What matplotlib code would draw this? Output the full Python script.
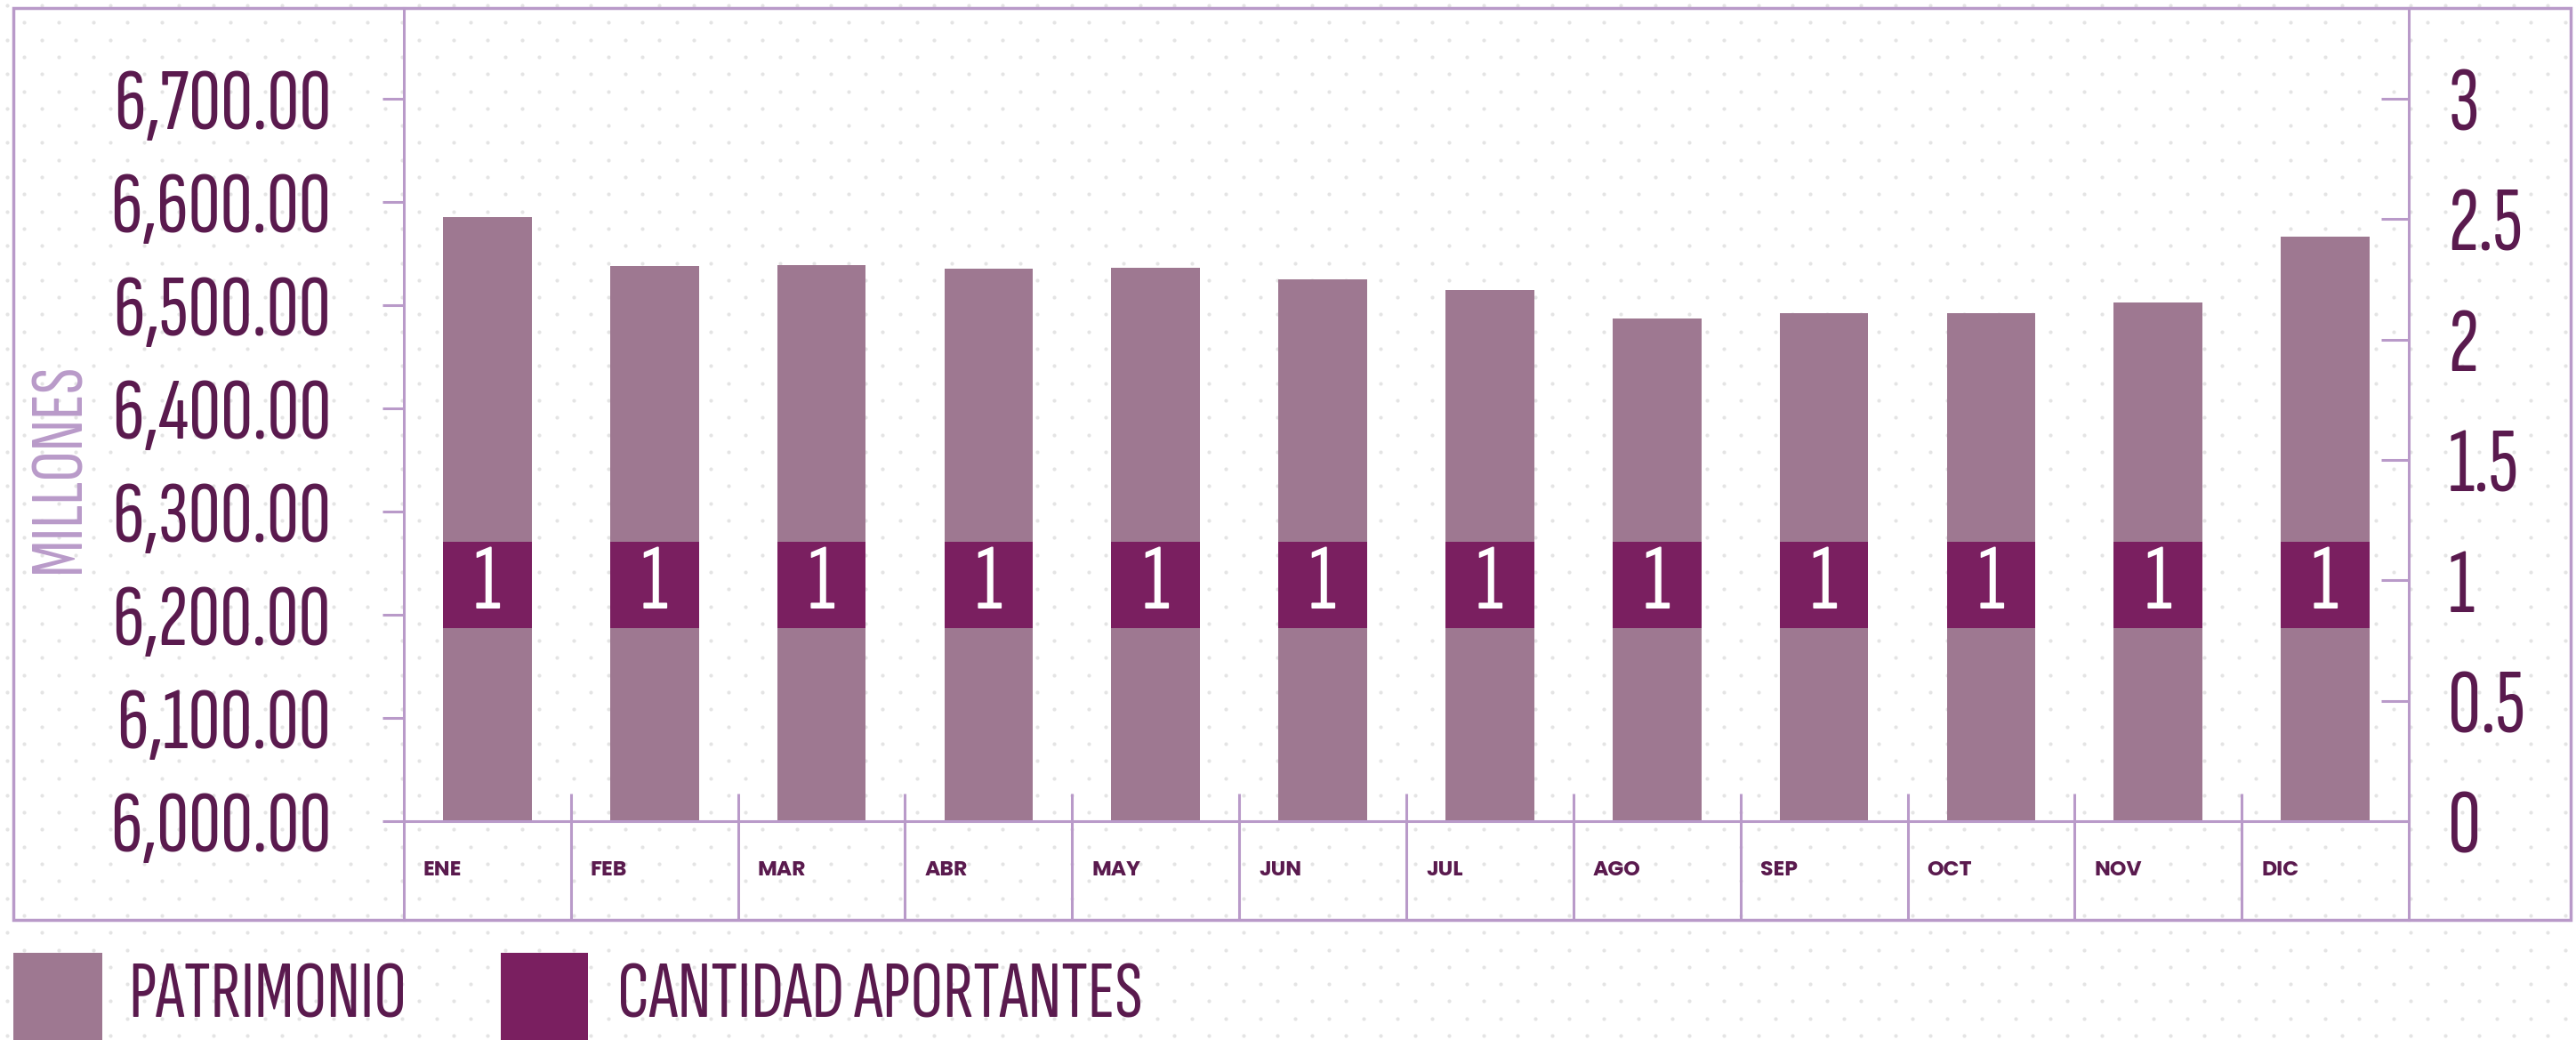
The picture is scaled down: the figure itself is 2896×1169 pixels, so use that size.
import matplotlib
matplotlib.use("Agg")
import matplotlib.pyplot as plt
from matplotlib import font_manager
from matplotlib.lines import Line2D
from matplotlib.patches import Rectangle
import numpy as np

# Datos (millones / cantidad de aportantes)
months = ["ENE", "FEB", "MAR", "ABR", "MAY", "JUN", "JUL", "AGO", "SEP", "OCT", "NOV", "DIC"]
patrimonio = [6585, 6538, 6539, 6535, 6536, 6525, 6515, 6487, 6492, 6492, 6503, 6566]
aportantes = [1, 1, 1, 1, 1, 1, 1, 1, 1, 1, 1, 1]
left_ticks = [6000, 6100, 6200, 6300, 6400, 6500, 6600, 6700]
right_ticks = [0, 0.5, 1, 1.5, 2, 2.5, 3]
right_labels = ["0", "0.5", "1", "1.5", "2", "2.5", "3"]

LIGHT = "#9e7891"
DARK = "#7a1f60"
TEXT = "#5a1a4e"
LINE = "#b99ac9"
DOT = "#e4e4e4"


def weights(name):
    out = set()
    for f in font_manager.fontManager.ttflist:
        if f.name == name:
            try:
                out.add(int(f.weight))
            except ValueError:
                pass
    return out


available = {f.name for f in font_manager.fontManager.ttflist}
cond = next((n for n in ["Sofia Sans Extra Condensed", "Saira ExtraCondensed", "Barlow Condensed"]
             if n in available), "DejaVu Sans")
bold = next((n for n in ["Poppins", "Lato", "DejaVu Sans"]
             if any(w >= 700 for w in weights(n))), "DejaVu Sans")

W, H = 2896, 1169
fig = plt.figure(figsize=(W / 100, H / 100), dpi=100)


def fx(px):
    return px / W


def fy(py):
    return 1 - py / H


# dotted background
bg = fig.add_axes([0, 0, 1, 1], zorder=-1)
bg.set_xlim(0, W)
bg.set_ylim(H, 0)
bg.axis("off")
step = 19.3
gx, gy = np.meshgrid(np.arange(0, W + step, step), np.arange(0, H + step, step))
ix, iy = np.meshgrid(np.arange(gx.shape[1]), np.arange(gx.shape[0]))
mask = (ix + iy) % 2 == 0
bg.scatter(gx[mask] + 8, gy[mask] + 6, s=9, color=DOT, linewidths=0)

# main axes
ax_l, ax_r, ax_t, ax_b = 454, 2708, 9, 923
ax = fig.add_axes([fx(ax_l), fy(ax_b), fx(ax_r - ax_l), (ax_b - ax_t) / H])
ax.set_facecolor("none")
x = np.arange(len(months))
ax.bar(x, patrimonio, width=0.53, color=LIGHT, zorder=2)
ax.set_xlim(-0.5, len(months) - 0.5)
ax.set_ylim(6000, 6000 + (ax_b - ax_t) / 116.0 * 100)
ax.set_yticks(left_ticks)
ax.set_yticklabels([f"{v:,.2f}" for v in left_ticks], fontsize=72, color=TEXT, family=cond)
ax.tick_params(axis="y", direction="out", length=17, width=2.2, color=LINE, pad=42)
ax.set_xticks([])
for s in ["top", "left", "right"]:
    ax.spines[s].set_visible(False)
ax.spines["bottom"].set_color(LINE)
ax.spines["bottom"].set_linewidth(2.2)

ax2 = ax.twinx()
ax2.set_ylim(0, (ax_b - ax_t) / 270.7)
ax2.bar(x, 0.36, bottom=np.array(aportantes) - 0.2, width=0.53, color=DARK, zorder=3)
for i, v in enumerate(aportantes):
    ax2.text(i, v - 0.02, str(v), ha="center", va="center", color="white",
             fontsize=76, family=cond, zorder=4)
ax2.set_yticks(right_ticks)
ax2.set_yticklabels(right_labels, fontsize=74, color=TEXT, family=cond)
ax2.tick_params(axis="y", direction="in", length=22, width=2.2, color=LINE, pad=32)
for s in ax2.spines.values():
    s.set_visible(False)

# month cells below the axis
xt = ax.get_xaxis_transform()
ax.vlines(x[1:] - 0.5, -(1034 - ax_b) / (ax_b - ax_t), 31 / (ax_b - ax_t),
          transform=xt, color=LINE, lw=2.2, clip_on=False, zorder=1)
for i, m in enumerate(months):
    ax.text(i - 0.5 + 0.117, -(979 - ax_b) / (ax_b - ax_t), m, transform=xt,
            ha="left", va="center", fontsize=17, fontweight="bold", color=TEXT, family=bold)

# frame and long vertical lines
fig.add_artist(Rectangle((fx(15), fy(1034)), fx(2890 - 15), (1034 - 9) / H,
                         transform=fig.transFigure, fill=False, ec=LINE, lw=2.5))
for px in (ax_l, ax_r):
    fig.add_artist(Line2D([fx(px), fx(px)], [fy(9), fy(1034)], transform=fig.transFigure,
                          color=LINE, lw=2.2))

fig.text(fx(68), fy(526), "MILLONES", rotation=90, ha="center", va="center",
         fontsize=62, color=LINE, family=cond)

# legend
fig.add_artist(Rectangle((fx(15), fy(1169)), fx(100), 98 / H, transform=fig.transFigure,
                         color=LIGHT, lw=0))
fig.text(fx(144), fy(1121), "PATRIMONIO", ha="left", va="center", fontsize=66,
         color=TEXT, family=cond)
fig.add_artist(Rectangle((fx(563), fy(1169)), fx(98), 98 / H, transform=fig.transFigure,
                         color=DARK, lw=0))
fig.text(fx(694), fy(1121), "CANTIDAD APORTANTES", ha="left", va="center", fontsize=66,
         color=TEXT, family=cond)

fig.savefig("out.png", dpi=100)
